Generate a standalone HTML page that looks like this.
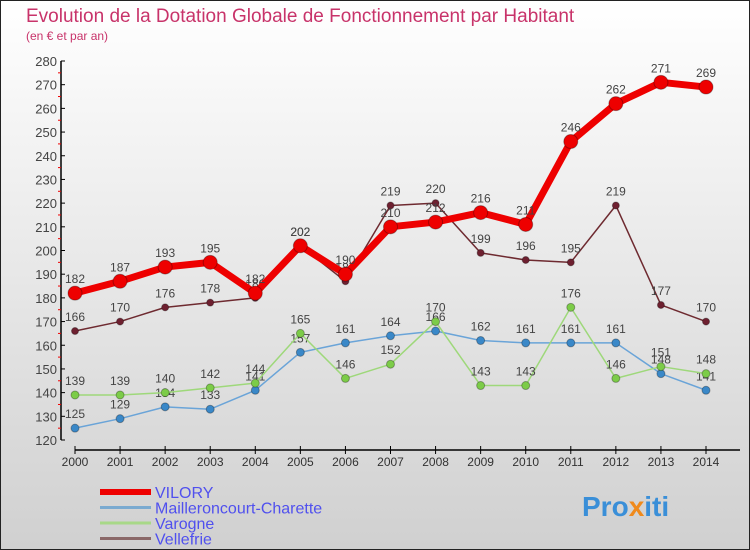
<!DOCTYPE html>
<html><head><meta charset="utf-8"><style>
body{margin:0;width:750px;height:550px;overflow:hidden}
svg{display:block;font-family:"Liberation Sans",sans-serif}
</style></head><body>
<svg id="c" width="750" height="550">
<defs><linearGradient id="bg" x1="0" y1="0" x2="0" y2="1"><stop offset="0" stop-color="#ffffff"/><stop offset="1" stop-color="#d0d0d0"/></linearGradient></defs>
<rect x="0.5" y="0.5" width="749" height="549" fill="url(#bg)" stroke="#222"/>
<text x="26" y="22" font-size="19" fill="#c8336a">Evolution de la Dotation Globale de Fonctionnement par Habitant</text>
<text x="26" y="40" font-size="12" fill="#c8336a">(en € et par an)</text>
<g id="axes"></g><g id="series"></g>
<g id="legend"></g>
<text x="582" y="516" font-size="28" font-weight="bold" fill="#3a8fd8">Pro<tspan fill="#f08a1c">x</tspan>iti</text>
</svg>
<script>
const years=[2000,2001,2002,2003,2004,2005,2006,2007,2008,2009,2010,2011,2012,2013,2014];
const yTicks=[120,130,140,150,160,170,180,190,200,210,220,230,240,250,260,270,280];
const vilory=[182,187,193,195,182,202,190,210,212,216,211,246,262,271,269];
const mailleroncourt=[125,129,134,133,141,157,161,164,166,162,161,161,161,148,141];
const varogne=[139,139,140,142,144,165,146,152,170,143,143,176,146,151,148];
const vellefrie=[166,170,176,178,180,202,187,219,220,199,196,195,219,177,170];
const NS="http://www.w3.org/2000/svg";
function X(i){return 75+i*(706-75)/14;}
function Y(v){return 440-(v-120)*(440-61)/160;}
function mk(t,a,p){const e=document.createElementNS(NS,t);for(const k in a)e.setAttribute(k,a[k]);(p||document.getElementById('series')).appendChild(e);return e;}
const ax=document.getElementById('axes');
let e=mk('line',{x1:61,y1:61,x2:61,y2:440,stroke:'#000','stroke-width':1.5},ax);

e=mk('line',{x1:75,y1:450,x2:740,y2:450,stroke:'#000','stroke-width':1.5},ax);

yTicks.forEach((v,i)=>{mk('line',{x1:61,y1:Y(v),x2:65,y2:Y(v),stroke:'#000'},ax);
if(i<yTicks.length-1)mk('line',{x1:58,y1:Y(v+5),x2:61,y2:Y(v+5),stroke:'#e00'},ax);
const t=mk('text',{x:57,y:Y(v)+5,'font-size':13,'text-anchor':'end',fill:'#444'},ax);t.textContent=v;
});
years.forEach((y,i)=>{mk('line',{x1:X(i),y1:446,x2:X(i),y2:454,stroke:'#000'},ax);
const t=mk('text',{x:X(i),y:466,'font-size':12,'text-anchor':'middle',fill:'#333'},ax);t.textContent=y;
});
function series(name,data,color,w,r,dot,lab){
const g=mk('g',{});
const l=mk('polyline',{points:data.map((v,i)=>X(i)+','+Y(v)).join(' '),fill:'none',stroke:color,'stroke-width':w,'stroke-linejoin':'round'},g);

data.forEach((v,i)=>{const c=mk('circle',{cx:X(i),cy:Y(v),r:r,fill:dot,stroke:'rgba(0,0,0,0.3)'},g);

const t=mk('text',{x:X(i),y:Y(v)-10,'font-size':12,'text-anchor':'middle',fill:'#444'},g);t.textContent=v;
});}
series('mailleroncourt',mailleroncourt,'#6aa4d8',1.5,4,'#3a88c8');
series('varogne',varogne,'#9ed87a',1.5,4,'#7ccc48');
series('vellefrie',vellefrie,'#6e2a30',1.5,3.5,'#6e2030');
series('vilory',vilory,'#ee0000',7,7,'#ee0000');
const lg=document.getElementById('legend');
[['VILORY','#ee0000',6],['Mailleroncourt-Charette','#7aaad0',3],['Varogne','#a8d888',3],['Vellefrie','#8a6868',3]].forEach((d,i)=>{
const y=492+i*15.5;const g=mk('g',{},lg);
mk('line',{x1:100,y1:y,x2:151,y2:y,stroke:d[1],'stroke-width':d[2]},g);
const t=mk('text',{x:155,y:y+6,'font-size':16,fill:'#5050ee'},g);t.textContent=d[0];});
</script>
</body></html>
